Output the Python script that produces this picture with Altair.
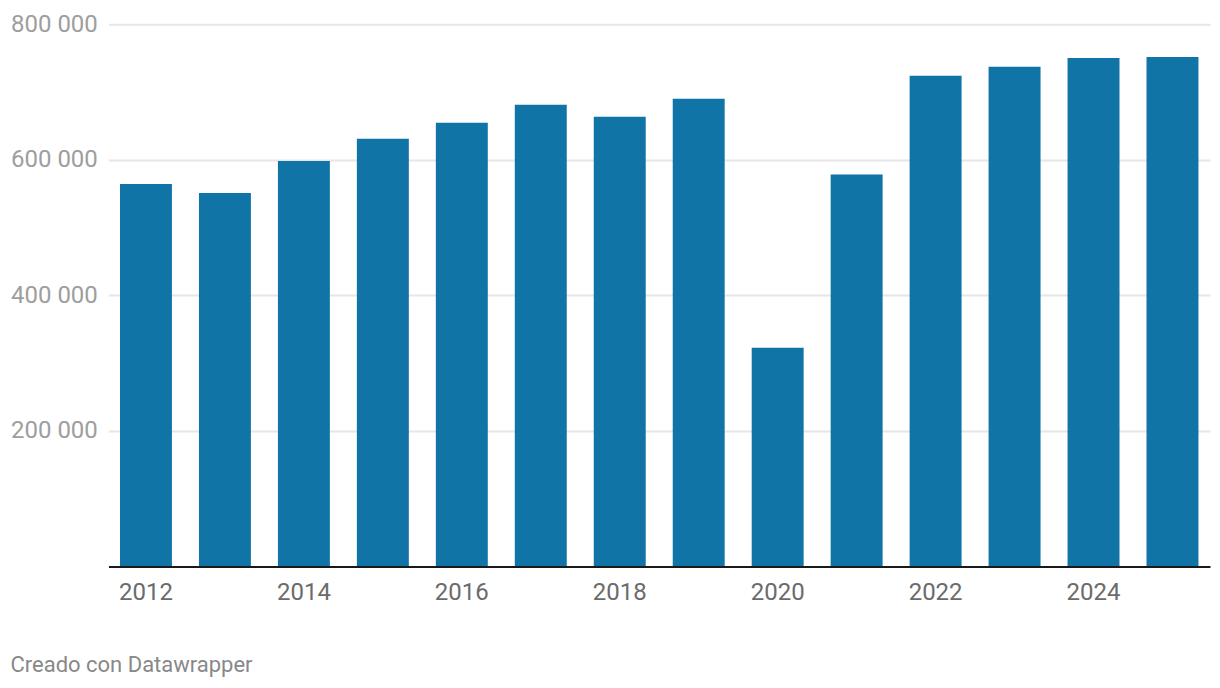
import altair as alt
import pandas as pd

years = ["2012", "2013", "2014", "2015", "2016", "2017", "2018", "2019",
         "2020", "2021", "2022", "2023", "2024", "2025"]
values = [564000, 551000, 598000, 631000, 654500, 681000, 663500, 690000,
          322500, 578000, 724000, 737000, 750000, 751500]
x_tick_labels = ["2012", "2014", "2016", "2018", "2020", "2022", "2024"]
y_tick_values = [200000, 400000, 600000, 800000]
footer = ["Creado con Datawrapper"]

df = pd.DataFrame({"year": years, "value": values})
foot_df = pd.DataFrame({"t": footer})

bars = alt.Chart(df).mark_bar(color="#1174a6").encode(
    x=alt.X(
        "year:N",
        sort=years,
        scale=alt.Scale(paddingInner=0.342, paddingOuter=0.146),
        axis=alt.Axis(
            title=None,
            values=x_tick_labels,
            labelAngle=0,
            ticks=False,
            tickSize=0,
            labelPadding=14,
            labelBaseline="top",
            labelFont="Roboto",
            labelFontSize=24,
            labelColor="#6b6b6b",
            domainColor="#1a1a1a",
            domainWidth=2,
            grid=False,
            zindex=1,
        ),
    ),
    y=alt.Y(
        "value:Q",
        scale=alt.Scale(domain=[0, 800000], nice=False),
        axis=alt.Axis(
            title=None,
            values=y_tick_values,
            labelExpr="replace(format(datum.value, ','), ',', ' ')",
            ticks=False,
            tickSize=0,
            domain=False,
            labelAlign="left",
            labelBaseline="middle",
            labelPadding=98,
            labelFont="Roboto",
            labelFontSize=24,
            labelColor="#9e9e9e",
            gridColor="#e6e6e6",
            gridWidth=2,
        ),
    ),
)

foot = alt.Chart(foot_df).mark_text(
    align="left", baseline="middle", font="Roboto", fontSize=22, color="#888888"
).encode(
    text="t:N",
    x=alt.value(-98),
    y=alt.value(641.5),
)

chart = alt.layer(bars, foot).properties(
    width=1102,
    height=542.5,
    autosize=alt.AutoSizeParams(type="none"),
    padding={"left": 100.5, "top": 16, "right": 2, "bottom": 110},
).configure_view(stroke=None)

chart.save("out.html", embed_options={"renderer": "svg", "actions": False})
